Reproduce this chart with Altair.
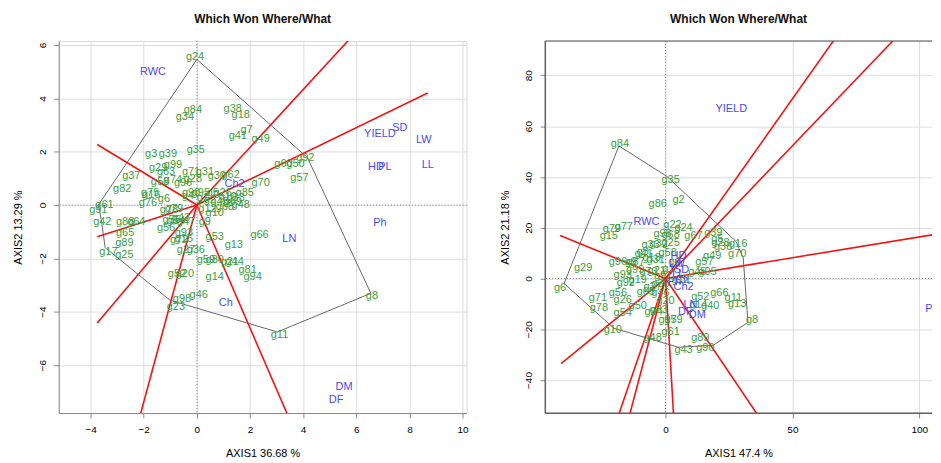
import altair as alt
import pandas as pd

FONT = "Liberation Sans"
GREEN = "#3d9c3d"
BLUE = "#4a4af0"
RED = "#f01515"
HULLC = "#666666"
BOX = "#444444"

# ---------------- Left panel data ----------------
L_GENO_NAMES = ["g24","g84","g34","g38","g18","g7","g41","g49","g35","g3","g39","g37","g82",
    "g29","g99","g63","g71","g31","g28","g96","g58","g74","g30","g62","g70","g75","g16","g76",
    "g6","g79","g90","g95","g19","g85","g48","g45","g69","g10","g9","g91","g61","g42","g88",
    "g64","g65","g89","g17","g25","g56","g54","g47","g93","g15","g72","g27","g36","g53","g13",
    "g66","g59","g80","g21","g44","g81","g94","g14","g52","g20","g46","g98","g23","g11","g8",
    "g92","g60","g50","g57","g1","g2","g4","g5","g26","g33","g68","g55","g43","g78","g12"]
L_GENO_X = [-0.07,-0.15,-0.45,1.35,1.65,1.87,1.54,2.40,-0.04,-1.72,-1.09,-2.47,-2.81,
    -1.46,-0.90,-1.16,-0.22,0.30,-0.15,-0.52,-1.39,-0.90,0.75,1.27,2.40,-1.76,-1.72,-1.84,
    -1.24,-0.86,-0.22,0.15,1.16,1.80,1.65,0.86,1.35,0.67,0.30,-3.71,-3.48,-3.56,-2.70,
    -2.28,-2.70,-2.73,-3.33,-2.73,-1.16,-0.79,-0.41,-0.49,-0.49,-0.67,-0.41,-0.04,0.67,1.39,
    2.36,0.34,0.67,1.24,1.42,1.91,2.10,0.67,-0.75,-0.45,0.07,-0.56,-0.79,3.11,6.59,
    4.08,3.26,3.71,3.86,0.22,0.49,-0.34,0.60,0.97,1.46,1.05,-0.95,-0.60,-1.05,0.40]
L_GENO_Y = [5.54,3.57,3.31,3.61,3.38,2.83,2.57,2.49,2.08,1.93,1.90,1.08,0.59,
    1.38,1.49,1.23,1.23,1.23,0.97,0.82,0.86,0.93,1.08,1.12,0.82,0.45,0.37,0.07,
    0.22,-0.15,0.45,0.45,0.30,0.45,0.00,0.11,0.11,-0.30,-0.63,-0.19,0.00,-0.63,-0.63,
    -0.63,-1.04,-1.41,-1.75,-1.86,-0.86,-0.59,-0.63,-1.04,-1.26,-1.30,-1.67,-1.67,-1.19,-1.49,
    -1.12,-2.08,-2.08,-2.12,-2.12,-2.42,-2.71,-2.71,-2.60,-2.60,-3.38,-3.53,-3.83,-4.87,-3.42,
    1.78,1.52,1.52,1.00,0.26,0.19,0.33,0.45,0.45,0.26,-0.07,-0.55,-0.50,-0.20,-0.15]

L_ENV_NAMES = ["RWC","YIELD","SD","LW","HD","PL","LL","Ch2","Ph","LN","Ch","DM","DF"]
L_ENV_X = [-1.65,6.89,7.64,8.54,6.74,7.08,8.69,1.42,6.89,3.48,1.09,5.54,5.24]
L_ENV_Y = [4.98,2.68,2.90,2.45,1.41,1.41,1.49,0.78,-0.67,-1.26,-3.68,-6.84,-7.32]

L_HULL_X = [0.0,4.16,6.55,3.03,-1.01,-3.45,-3.60,-3.71,0.0]
L_HULL_Y = [5.46,1.78,-3.31,-4.76,-3.57,-1.60,-0.55,0.0,5.46]

L_RAY_X = [6.8,8.69,-3.75,-3.75,-3.75,-2.30,3.69]
L_RAY_Y = [7.36,4.20,2.27,-1.19,-4.42,-8.50,-8.50]

# ---------------- Right panel data ----------------
R_GENO_NAMES = ["g84","g35","g86","g2","g77","g79","g15","g29","g6","g22","g24","g98","g68",
    "g25","g32","g33","g67","g39","g5","g38","g28","g16","g70","g49","g57","g95","g45","g58",
    "g41","g31","g87","g96","g9","g93","g92","g19","g73","g71","g78","g56","g26","g50","g54",
    "g10","g63","g97","g59","g61","g48","g43","g89","g90","g14","g40","g52","g66","g11","g13",
    "g8","g1","g21","g36","g27","g65","g46","g12","g4","g94","g20","g3","g18","g99","g91"]
R_GENO_X = [-18.0,2.0,-3.1,5.1,-16.5,-21.2,-22.4,-32.5,-41.6,2.7,7.1,-1.2,2.0,
    2.0,-2.7,-5.9,11.0,18.8,20.4,22.7,21.6,28.6,28.2,18.4,15.3,16.5,12.5,0.8,
    -8.6,-3.9,-11.8,-18.8,-13.7,-16.9,-15.7,-11.0,-6.7,-26.7,-26.3,-18.8,-16.9,-11.0,-16.9,
    -20.8,-2.7,0.8,3.1,2.0,-5.1,7.1,13.7,15.7,12.9,17.6,13.7,21.2,26.7,28.2,
    34.1,1.2,-3.5,-2.0,-5.1,-7.8,-2.0,5.9,3.5,-4.7,0.0,-9.0,-5.5,-12.0,-1.0]
R_GENO_Y = [52.9,38.8,29.4,31.0,20.4,19.6,16.9,4.3,-3.9,21.2,20.0,17.6,17.3,
    14.1,13.7,13.3,16.9,18.0,15.7,12.5,14.1,13.7,9.8,9.0,6.3,2.4,2.7,10.2,
    9.8,7.1,6.3,6.3,6.3,1.2,-1.6,-0.8,2.4,-7.8,-11.8,-5.9,-8.6,-11.0,-13.7,
    -20.4,-12.5,-16.5,-16.5,-21.2,-23.5,-28.2,-23.5,-27.5,-10.6,-11.0,-7.5,-5.9,-7.8,-10.2,
    -16.5,3.9,3.1,-2.0,-3.5,-5.5,-5.9,-0.8,6.3,-13.3,-9.0,10.5,8.0,3.5,1.0]

R_ENV_NAMES = ["YIELD","RWC","HD","LW","SD","LL","Ch","Ph","Ch2","LN","DF","DM","PL"]
R_ENV_X = [25.9,-7.5,5.1,4.5,6.3,5.0,6.5,3.5,7.1,9.8,7.8,12.5,105.0]
R_ENV_Y = [66.7,22.4,9.0,5.5,3.5,1.5,-0.5,-1.5,-3.5,-10.6,-13.3,-14.5,-12.2]

R_HULL_X = [-18.4,0.5,27.8,30.6,32.5,18.8,5.1,-8.6,-20.4,-40.0,-18.4]
R_HULL_Y = [52.2,40.2,14.5,8.2,-17.3,-26.3,-27.1,-23.1,-19.6,-2.0,52.2]

R_RAY_X = [72.0,97.5,120.0,-41.6,-41.2,-20.0,-15.3,3.4,39.2]
R_RAY_Y = [101.8,101.8,19.6,16.9,-33.5,-58.0,-58.0,-58.0,-58.0]


def make_panel(gn, gx, gy, en, ex, ey, hx, hy, rx, ry,
               xdom, ydom, xvals, yvals, xtitle, ytitle, w, h, open_right):
    xs = alt.Scale(domain=xdom, nice=False, zero=False)
    ys = alt.Scale(domain=ydom, nice=False, zero=False)
    xax = alt.Axis(values=xvals, title=xtitle, titlePadding=13, labelPadding=7,
                   titleFontWeight="normal")
    yax = alt.Axis(values=yvals, title=ytitle, labelAngle=270, titlePadding=13.5,
                   labelPadding=6.5, labelAlign="center", labelBaseline="bottom",
                   titleFontWeight="normal")

    geno = pd.DataFrame({"name": gn, "x": gx, "y": gy})
    env = pd.DataFrame({"name": en, "x": ex, "y": ey})
    hull = pd.DataFrame({"x": hx, "y": hy, "i": list(range(len(hx)))})
    rays = pd.DataFrame({"x": [0.0] * len(rx), "y": [0.0] * len(rx), "x1": rx, "y1": ry})

    X = alt.X("x:Q", scale=xs, axis=xax)
    Y = alt.Y("y:Q", scale=ys, axis=yax)

    layers = []
    layers.append(alt.Chart(pd.DataFrame({"x": [0.0]})).mark_rule(
        color="#888888", strokeDash=[1, 2], strokeWidth=1).encode(x=X))
    layers.append(alt.Chart(pd.DataFrame({"y": [0.0]})).mark_rule(
        color="#888888", strokeDash=[1, 2], strokeWidth=1).encode(y=Y))
    if open_right:
        layers.append(alt.Chart(pd.DataFrame({"x": [xdom[0]]})).mark_rule(
            color=BOX, strokeWidth=1).encode(x=X))
        layers.append(alt.Chart(pd.DataFrame({"y": [ydom[0], ydom[1]]})).mark_rule(
            color=BOX, strokeWidth=1).encode(y=Y))
    layers.append(alt.Chart(hull).mark_line(color=HULLC, strokeWidth=1, clip=True).encode(
        x=X, y=Y, order="i:Q"))
    layers.append(alt.Chart(rays).mark_rule(color=RED, strokeWidth=1.6, clip=True).encode(
        x=X, y=Y, x2="x1:Q", y2="y1:Q"))
    layers.append(alt.Chart(geno).mark_text(font=FONT, fontSize=11, color=GREEN,
                                            clip=True).encode(x=X, y=Y, text="name:N"))
    layers.append(alt.Chart(env).mark_text(font=FONT, fontSize=11, color=BLUE,
                                           clip=True).encode(x=X, y=Y, text="name:N"))
    props = dict(width=w, height=h,
                 title=alt.TitleParams("Which Won Where/What", font=FONT, fontSize=12,
                                       fontWeight="bold", color="#111111", offset=15,
                                       anchor="middle"))
    if open_right:
        props["view"] = alt.ViewBackground(stroke="transparent")
    return alt.layer(*layers).properties(**props)


left = make_panel(L_GENO_NAMES, L_GENO_X, L_GENO_Y, L_ENV_NAMES, L_ENV_X, L_ENV_Y,
                  L_HULL_X, L_HULL_Y, L_RAY_X, L_RAY_Y,
                  [-5.2, 10.15], [-7.8, 6.15], [-4, -2, 0, 2, 4, 6, 8, 10],
                  [-6, -4, -2, 0, 2, 4, 6], "AXIS1 36.68 %", "AXIS2 13.29 %", 410, 374, False)
right = make_panel(R_GENO_NAMES, R_GENO_X, R_GENO_Y, R_ENV_NAMES, R_ENV_X, R_ENV_Y,
                   R_HULL_X, R_HULL_Y, R_RAY_X, R_RAY_Y,
                   [-47.5, 105.05], [-53.0, 93.5], [0, 50, 100],
                   [-40, -20, 0, 20, 40, 60, 80], "AXIS1 47.4 %", "AXIS2 21.18 %", 389, 374, True)

chart = alt.hconcat(left, right, spacing=29).properties(
    padding={"left": 4, "top": 3, "right": 0, "bottom": 0}
).configure_view(stroke=BOX, strokeWidth=1).configure_axis(
    domain=False, grid=False, ticks=True, tickColor=BOX, tickSize=7,
    labelFont=FONT, labelFontSize=11, labelColor="#333333", labelOverlap=False,
    labelFlush=False, titleFont=FONT, titleFontSize=11, titleFontWeight="normal",
    titleColor="#333333"
).configure(background="white")

chart.save("out.html", embed_options={"renderer": "svg", "actions": False})
